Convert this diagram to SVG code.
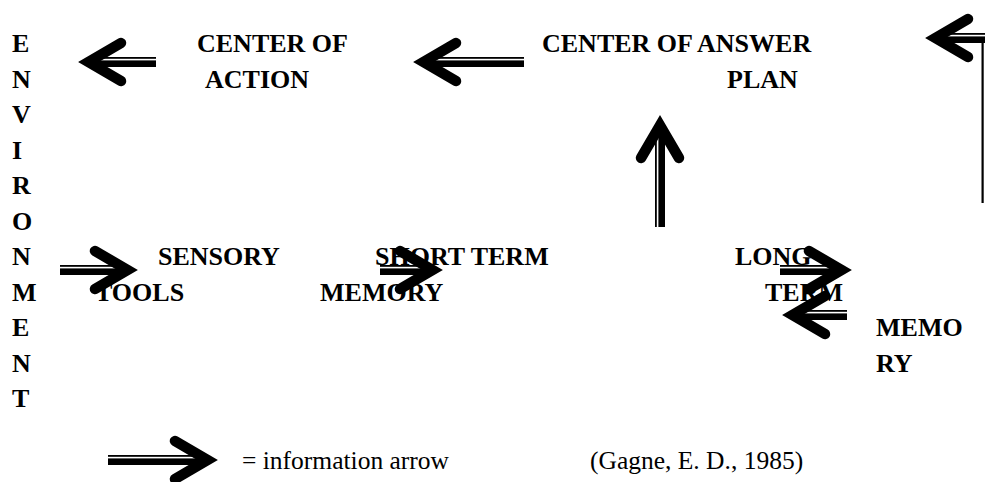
<svg xmlns="http://www.w3.org/2000/svg" xmlns:xlink="http://www.w3.org/1999/xlink" width="985" height="482" viewBox="0 0 985 482">
<style>
  .b { font-family: "Liberation Serif", "Times New Roman", serif; font-weight: bold; font-size: 26px; fill: #000; }
  .r { font-family: "Liberation Serif", "Times New Roman", serif; font-size: 25.5px; fill: #000; }
  .chev { fill: none; stroke: #000; stroke-width: 10.5; stroke-linecap: round; stroke-linejoin: miter; }
  .sh { fill: #000; }
</style>
<defs>
  <polyline id="chev" class="chev" points="-43,-19 -10.5,0 -43,19"/>
</defs>
<rect width="985" height="482" fill="#fff"/>

<g id="connectors">
  <g id="a1" transform="translate(78,62) scale(-1,1)">
    <rect class="sh" x="-78" y="-5" width="60" height="1.8"/>
    <rect class="sh" x="-78" y="-1.6" width="60" height="6.6"/>
    <use href="#chev" xlink:href="#chev"/>
  </g>
  <g id="a2" transform="translate(413,62) scale(-1,1)">
    <rect class="sh" x="-111" y="-5" width="93" height="1.8"/>
    <rect class="sh" x="-111" y="-1.6" width="93" height="6.6"/>
    <use href="#chev" xlink:href="#chev"/>
  </g>
  <g id="a3" transform="translate(925,38) scale(-1,1)">
    <rect class="sh" x="-70" y="-5" width="52" height="1.8"/>
    <rect class="sh" x="-70" y="-1.6" width="52" height="6.6"/>
    <use href="#chev" xlink:href="#chev"/>
  </g>
  <rect class="sh" x="981.5" y="37" width="2.2" height="166"/>
  <g id="a4" transform="translate(660,115) rotate(-90)">
    <rect class="sh" x="-112" y="-5" width="94" height="1.8"/>
    <rect class="sh" x="-112" y="-1.6" width="94" height="6.6"/>
    <use href="#chev" xlink:href="#chev"/>
  </g>
  <g id="a5" transform="translate(138,270)">
    <rect class="sh" x="-78" y="-5" width="60" height="1.8"/>
    <rect class="sh" x="-78" y="-1.6" width="60" height="6.6"/>
    <use href="#chev" xlink:href="#chev"/>
  </g>
  <g id="a6" transform="translate(443,270)">
    <rect class="sh" x="-63" y="-5" width="45" height="1.8"/>
    <rect class="sh" x="-63" y="-1.6" width="45" height="6.6"/>
    <use href="#chev" xlink:href="#chev"/>
  </g>
  <g id="a7" transform="translate(852,270)">
    <rect class="sh" x="-72" y="-5" width="54" height="1.8"/>
    <rect class="sh" x="-72" y="-1.6" width="54" height="6.6"/>
    <use href="#chev" xlink:href="#chev"/>
  </g>
  <g id="a8" transform="translate(782,315) scale(-1,1)">
    <rect class="sh" x="-65" y="-5" width="47" height="1.8"/>
    <rect class="sh" x="-65" y="-1.6" width="47" height="6.6"/>
    <use href="#chev" xlink:href="#chev"/>
  </g>
  <g id="a9" transform="translate(218,460)">
    <rect class="sh" x="-110" y="-5" width="92" height="1.8"/>
    <rect class="sh" x="-110" y="-1.6" width="92" height="6.6"/>
    <use href="#chev" xlink:href="#chev"/>
  </g>
</g>

<g id="environment">
  <text class="b" x="12" y="52">E</text>
  <text class="b" x="12" y="87.5">N</text>
  <text class="b" x="12" y="123">V</text>
  <text class="b" x="12" y="158.5">I</text>
  <text class="b" x="12" y="194">R</text>
  <text class="b" x="12" y="229.5">O</text>
  <text class="b" x="12" y="265">N</text>
  <text class="b" x="12" y="300.5">M</text>
  <text class="b" x="12" y="336">E</text>
  <text class="b" x="12" y="371.5">N</text>
  <text class="b" x="12" y="407">T</text>
</g>

<g id="center-of-action">
  <text class="b" x="197" y="52">CENTER OF</text>
  <text class="b" x="205" y="87.5">ACTION</text>
</g>

<g id="center-of-answer-plan">
  <text class="b" x="542" y="52">CENTER OF ANSWER</text>
  <text class="b" x="727" y="87.5">PLAN</text>
</g>

<g id="sensory-tools">
  <text class="b" x="158" y="265">SENSORY</text>
  <text class="b" x="95" y="300.5">TOOLS</text>
</g>

<g id="short-term-memory">
  <text class="b" x="375" y="265">SHORT TERM</text>
  <text class="b" x="320" y="300.5">MEMORY</text>
</g>

<g id="long-term-memory">
  <text class="b" x="735" y="265">LONG</text>
  <text class="b" x="765" y="300.5">TERM</text>
  <text class="b" x="876" y="336">MEMO</text>
  <text class="b" x="876" y="371.5">RY</text>
</g>

<g id="legend">
  <text class="r" x="242" y="469">= information arrow</text>
  <text class="r" x="590" y="469">(Gagne, E. D., 1985)</text>
</g>
</svg>
